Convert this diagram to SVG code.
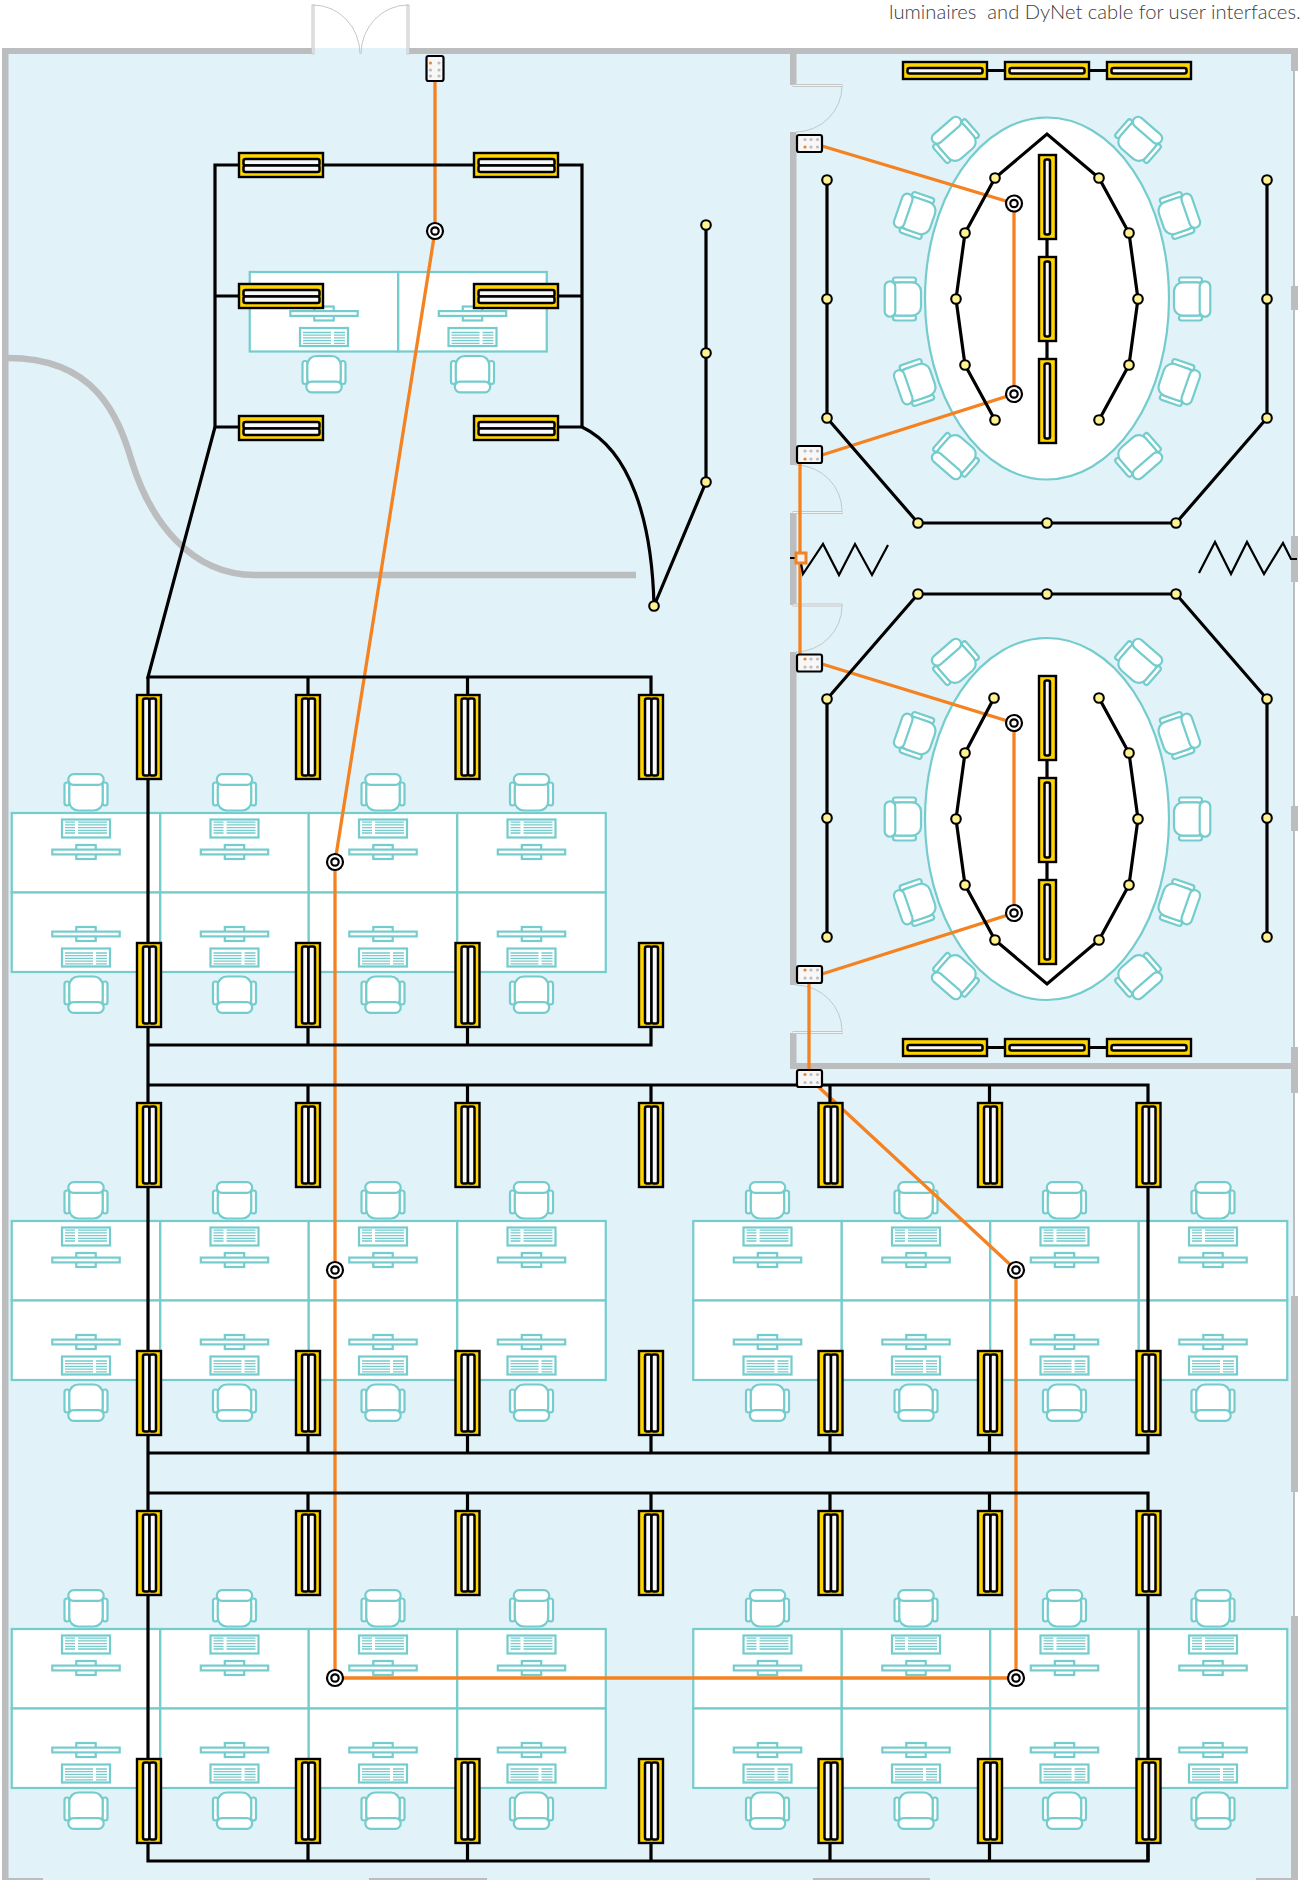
<svg xmlns="http://www.w3.org/2000/svg" width="1303" height="1880" viewBox="0 0 1303 1880">
<style>
.wall{fill:#bcbdbf}
.wallc{fill:none;stroke:#bcbdbf;stroke-width:6.5}
.door{fill:none;stroke:#c6c7c9;stroke-width:1}
.leaf{fill:#f0f4f5;stroke:#c6c7c9;stroke-width:1}
.t{fill:#fff;stroke:#74cccd;stroke-width:2.2}
.tl{fill:none;stroke:#74cccd;stroke-width:1.3}
.w{fill:none;stroke:#000;stroke-width:3.2;stroke-linejoin:miter}
.z{fill:none;stroke:#000;stroke-width:2.2}
.o{fill:none;stroke:#f58220;stroke-width:3.3}
.lum{fill:#ffd500;stroke:#000;stroke-width:2.4}
.tube{fill:#f8f8f8;stroke:#000;stroke-width:2.5}
.n{fill:#fff38f;stroke:#000;stroke-width:2.1}
.s{fill:#fff;stroke:#000;stroke-width:2.2}
.kp{fill:#f7f7f7;stroke:#000;stroke-width:2.2}
.dg{fill:#bcbdbf}
.do{fill:#f58220}
text{font-family:"Lato","Liberation Sans",sans-serif;font-weight:300;font-size:20.2px;fill:#3c3c3c;white-space:pre}
</style>
<defs>
<g id="lh2"><rect class="lum" x="1" y="1" width="84" height="24"/><rect class="tube" x="5.5" y="7" width="76" height="6.5" rx="2"/><rect class="tube" x="5.5" y="13.5" width="76" height="6.5" rx="2"/></g>
<g id="lv2"><rect class="lum" x="1" y="1" width="24" height="84"/><rect class="tube" x="7" y="4.5" width="6.5" height="77" rx="2"/><rect class="tube" x="13.5" y="4.5" width="6.5" height="77" rx="2"/></g>
<g id="lh1"><rect class="lum" x="1" y="1" width="84" height="17"/><rect class="tube" x="5.5" y="7" width="75" height="5.5" rx="2"/></g>
<g id="lv1"><rect class="lum" x="1" y="1" width="17" height="84"/><rect class="tube" x="6.5" y="5.5" width="5.5" height="75" rx="2"/></g>
<g id="sensor"><circle class="s" r="8"/><circle class="s" r="3.7"/></g>
<g id="chair"><rect class="t" x="-21.5" y="-10" width="5" height="23" rx="2.5"/><rect class="t" x="16.5" y="-10" width="5" height="23" rx="2.5"/><rect class="t" x="-16.7" y="-14" width="33.4" height="32" rx="9"/><rect class="t" x="-17.7" y="-18.3" width="35.4" height="10.6" rx="5.3"/></g>
<g id="chairB"><use href="#chair" transform="scale(1,-1)"/></g>
<g id="mon"><rect class="t" x="-9.7" y="-7" width="19.4" height="14"/><rect class="t" x="-33.7" y="-2.4" width="67.4" height="4.8"/></g>
<g id="kbT"><rect class="t" x="-24" y="-9" width="48" height="18"/><path class="tl" d="M-21-6.3h10M-21-3.6h10M-21-.9h10M-21 1.8h10M-21 4.5h10M-8-6.3h29M-8-3.6h29M-8-.9h29M-8 1.8h29M-8 4.5h29"/></g>
<g id="kbB"><rect class="t" x="-24" y="-9" width="48" height="18"/><path class="tl" d="M-21-4.5h28M-21-1.8h28M-21 .9h28M-21 3.6h28M-21 6.3h28M10-4.5h11M10-1.8h11M10 .9h11M10 3.6h11M10 6.3h11"/></g>
<g id="deskT"><rect class="t" x="-74.25" y="-79.5" width="148.5" height="79.5"/><use href="#kbT" y="-64"/><use href="#mon" y="-40.5"/><use href="#chair" y="-100"/></g>
<g id="deskB"><rect class="t" x="-74.25" y="0" width="148.5" height="79.5"/><use href="#mon" y="41.5"/><use href="#kbB" y="65"/><use href="#chairB" y="102"/></g>
</defs>
<rect width="1303" height="1880" fill="#fff"/>
<rect x="2" y="48" width="1292" height="1832" fill="#e1f2f8"/>
<g id="walls">
<rect class="wall" x="2" y="48" width="6.5" height="1832"/>
<rect class="wall" x="2" y="48" width="310" height="6"/>
<rect class="wall" x="408" y="48" width="889" height="6"/>
<path class="wallc" d="M8 358C95 358 118 415 132 462C150 520 190 575 255 575L636 575"/>
<rect class="wall" x="790" y="48" width="6.5" height="37"/>
<rect class="wall" x="790" y="132" width="6.5" height="333"/>
<rect class="wall" x="790" y="513" width="6.5" height="92"/>
<rect class="wall" x="790" y="652" width="6.5" height="333"/>
<rect class="wall" x="790" y="1033" width="6.5" height="36"/>
<rect class="wall" x="790" y="1063" width="507" height="6"/>
<rect class="wall" x="1293" y="48" width="2" height="1832"/>
<rect class="wall" x="1291" y="48" width="7" height="23"/>
<rect class="wall" x="1291" y="286" width="7" height="24"/>
<rect class="wall" x="1291" y="536" width="7" height="46"/>
<rect class="wall" x="1291" y="806" width="7" height="25"/>
<rect class="wall" x="1291" y="1047" width="7" height="46"/>
<rect class="wall" x="1291" y="1296" width="7" height="196"/>
<rect class="wall" x="1291" y="1616" width="7" height="264"/>
<rect class="wall" x="2" y="1878" width="41" height="2"/>
<rect class="wall" x="369" y="1878" width="118" height="2"/>
<rect class="wall" x="813" y="1878" width="117" height="2"/>
<rect class="wall" x="1256" y="1878" width="42" height="2"/>
</g>
<g id="doors">
<rect class="leaf" x="312" y="5" width="2" height="49"/><path class="door" d="M313 5A47 49 0 0 1 360 54"/>
<rect class="leaf" x="407" y="5" width="2" height="49"/><path class="door" d="M408 5A47 49 0 0 0 361 54"/>
<rect class="leaf" x="793" y="84.5" width="49" height="2"/><path class="door" d="M842 86A47 46 0 0 1 796 132"/>
<rect class="leaf" x="793" y="511.5" width="49" height="2"/><path class="door" d="M842 511A47 46 0 0 0 796 465"/>
<rect class="leaf" x="793" y="604" width="49" height="2"/><path class="door" d="M842 606A47 46 0 0 1 796 652"/>
<rect class="leaf" x="793" y="1031.5" width="49" height="2"/><path class="door" d="M842 1031A47 46 0 0 0 796 985"/>
</g>
<g id="table-upper"><ellipse class="t" cx="1047" cy="298.5" rx="122" ry="181"/></g>
<g id="table-lower"><ellipse class="t" cx="1047" cy="819" rx="122" ry="181"/></g>
<g id="chairs-upper">
<use href="#chair" transform="translate(955 140) rotate(-41)"/><use href="#chair" transform="translate(915.5 215) rotate(-71)"/><use href="#chair" transform="translate(903 299) rotate(-90)"/><use href="#chair" transform="translate(915.5 383) rotate(-109)"/><use href="#chair" transform="translate(955 456) rotate(-139)"/>
<use href="#chair" transform="translate(1139 140) rotate(41)"/><use href="#chair" transform="translate(1178.5 215) rotate(71)"/><use href="#chair" transform="translate(1192 299) rotate(90)"/><use href="#chair" transform="translate(1178.5 383) rotate(109)"/><use href="#chair" transform="translate(1139 456) rotate(139)"/>
</g>
<g id="chairs-lower">
<use href="#chair" transform="translate(955 662) rotate(-41)"/><use href="#chair" transform="translate(915.5 735) rotate(-71)"/><use href="#chair" transform="translate(903 819) rotate(-90)"/><use href="#chair" transform="translate(915.5 903) rotate(-109)"/><use href="#chair" transform="translate(955 976) rotate(-139)"/>
<use href="#chair" transform="translate(1139 662) rotate(41)"/><use href="#chair" transform="translate(1178.5 735) rotate(71)"/><use href="#chair" transform="translate(1192 819) rotate(90)"/><use href="#chair" transform="translate(1178.5 903) rotate(109)"/><use href="#chair" transform="translate(1139 976) rotate(139)"/>
</g>
<g id="desks-top"><use href="#deskB" x="324" y="272"/><use href="#deskB" x="472.5" y="272"/></g>
<g id="desks-a"><use href="#deskT" x="86" y="892.5"/><use href="#deskT" x="234.5" y="892.5"/><use href="#deskT" x="383" y="892.5"/><use href="#deskT" x="531.5" y="892.5"/><use href="#deskB" x="86" y="892.5"/><use href="#deskB" x="234.5" y="892.5"/><use href="#deskB" x="383" y="892.5"/><use href="#deskB" x="531.5" y="892.5"/></g>
<g id="desks-b"><use href="#deskT" x="86" y="1300.5"/><use href="#deskT" x="234.5" y="1300.5"/><use href="#deskT" x="383" y="1300.5"/><use href="#deskT" x="531.5" y="1300.5"/><use href="#deskB" x="86" y="1300.5"/><use href="#deskB" x="234.5" y="1300.5"/><use href="#deskB" x="383" y="1300.5"/><use href="#deskB" x="531.5" y="1300.5"/></g>
<g id="desks-c"><use href="#deskT" x="767.5" y="1300.5"/><use href="#deskT" x="916" y="1300.5"/><use href="#deskT" x="1064.5" y="1300.5"/><use href="#deskT" x="1213" y="1300.5"/><use href="#deskB" x="767.5" y="1300.5"/><use href="#deskB" x="916" y="1300.5"/><use href="#deskB" x="1064.5" y="1300.5"/><use href="#deskB" x="1213" y="1300.5"/></g>
<g id="desks-d"><use href="#deskT" x="86" y="1708.5"/><use href="#deskT" x="234.5" y="1708.5"/><use href="#deskT" x="383" y="1708.5"/><use href="#deskT" x="531.5" y="1708.5"/><use href="#deskB" x="86" y="1708.5"/><use href="#deskB" x="234.5" y="1708.5"/><use href="#deskB" x="383" y="1708.5"/><use href="#deskB" x="531.5" y="1708.5"/></g>
<g id="desks-e"><use href="#deskT" x="767.5" y="1708.5"/><use href="#deskT" x="916" y="1708.5"/><use href="#deskT" x="1064.5" y="1708.5"/><use href="#deskT" x="1213" y="1708.5"/><use href="#deskB" x="767.5" y="1708.5"/><use href="#deskB" x="916" y="1708.5"/><use href="#deskB" x="1064.5" y="1708.5"/><use href="#deskB" x="1213" y="1708.5"/></g>
<g id="connectors">
<g id="dynet">
<path class="o" d="M435 81V231L335 862V1678H1016V1270L810 1079"/>
<path class="o" d="M822 146L1014 203.5V394L822 455"/>
<path class="o" d="M800 463V654"/>
<path class="o" d="M822 664L1014 723V913L822 974"/>
<path class="o" d="M809 983V1070"/>
</g>
<g id="dali">
<path class="w" d="M238 165H215V427H238M215 296H238M324 165H473M559 165H582V427H559M582 296H559"/>
<path class="w" d="M215 427L148 677H651V694M308 677V694M467.5 677V694"/>
<path class="w" d="M582 427C630 450 652 520 654 606L706 482V225"/>
<path class="w" d="M148 677V1861H1148V1844M148 1045H651V1028M308 1045V1028M467.5 1045V1028"/>
<path class="w" d="M148 1085H1148V1453H148M308 1085V1102M467.5 1085V1102M651 1085V1102M830 1085V1102M989.5 1085V1102"/>
<path class="w" d="M308 1453V1436M467.5 1453V1436M651 1453V1436M830 1453V1436M989.5 1453V1436"/>
<path class="w" d="M148 1493H1148V1861M308 1493V1510M467.5 1493V1510M651 1493V1510M830 1493V1510M989.5 1493V1510"/>
<path class="w" d="M308 1861V1844M467.5 1861V1844M651 1861V1844M830 1861V1844M989.5 1861V1844"/>
<path class="w" d="M988 70.5H1106M988 1047.5H1106M1047 240V358M1047 761V879"/>
<path class="w" d="M995 420L965 365L956 299L965 233L995 178L1047 134L1099 178L1129 233L1138 299L1129 365L1099 420"/>
<path class="w" d="M827 180V418L918 523H1176L1267 418V180"/>
<path class="w" d="M994 698L965 753L956 819L965 885L995 940L1047 984L1099 940L1129 885L1138 819L1129 753L1099 698"/>
<path class="w" d="M827 937V699L918 594H1176L1267 699V937"/>
<path class="z" d="M790 558H798M800 558L803 574L823 544L839 575L855 544L872 575L888 545"/>
<path class="z" d="M1199 573L1215 542L1231 574L1247 542L1264 574L1283 543L1291 559H1297"/>
</g>
</g>
<g id="luminaires">
<g id="l-t1"><use href="#lh2" x="238" y="152"/></g><g id="l-t2"><use href="#lh2" x="473" y="152"/></g>
<g id="l-t3"><use href="#lh2" x="238" y="283"/></g><g id="l-t4"><use href="#lh2" x="473" y="283"/></g>
<g id="l-t5"><use href="#lh2" x="238" y="415"/></g><g id="l-t6"><use href="#lh2" x="473" y="415"/></g>
<g id="l-a1"><use href="#lv2" x="136" y="694"/></g><g id="l-a2"><use href="#lv2" x="295" y="694"/></g><g id="l-a3"><use href="#lv2" x="454.5" y="694"/></g><g id="l-a4"><use href="#lv2" x="638" y="694"/></g>
<g id="l-b1"><use href="#lv2" x="136" y="942"/></g><g id="l-b2"><use href="#lv2" x="295" y="942"/></g><g id="l-b3"><use href="#lv2" x="454.5" y="942"/></g><g id="l-b4"><use href="#lv2" x="638" y="942"/></g>
<g id="l-c1"><use href="#lv2" x="136" y="1102"/></g><g id="l-c2"><use href="#lv2" x="295" y="1102"/></g><g id="l-c3"><use href="#lv2" x="454.5" y="1102"/></g><g id="l-c4"><use href="#lv2" x="638" y="1102"/></g><g id="l-c5"><use href="#lv2" x="817.5" y="1102"/></g><g id="l-c6"><use href="#lv2" x="977" y="1102"/></g><g id="l-c7"><use href="#lv2" x="1135.5" y="1102"/></g>
<g id="l-d1"><use href="#lv2" x="136" y="1350"/></g><g id="l-d2"><use href="#lv2" x="295" y="1350"/></g><g id="l-d3"><use href="#lv2" x="454.5" y="1350"/></g><g id="l-d4"><use href="#lv2" x="638" y="1350"/></g><g id="l-d5"><use href="#lv2" x="817.5" y="1350"/></g><g id="l-d6"><use href="#lv2" x="977" y="1350"/></g><g id="l-d7"><use href="#lv2" x="1135.5" y="1350"/></g>
<g id="l-e1"><use href="#lv2" x="136" y="1510"/></g><g id="l-e2"><use href="#lv2" x="295" y="1510"/></g><g id="l-e3"><use href="#lv2" x="454.5" y="1510"/></g><g id="l-e4"><use href="#lv2" x="638" y="1510"/></g><g id="l-e5"><use href="#lv2" x="817.5" y="1510"/></g><g id="l-e6"><use href="#lv2" x="977" y="1510"/></g><g id="l-e7"><use href="#lv2" x="1135.5" y="1510"/></g>
<g id="l-f1"><use href="#lv2" x="136" y="1758"/></g><g id="l-f2"><use href="#lv2" x="295" y="1758"/></g><g id="l-f3"><use href="#lv2" x="454.5" y="1758"/></g><g id="l-f4"><use href="#lv2" x="638" y="1758"/></g><g id="l-f5"><use href="#lv2" x="817.5" y="1758"/></g><g id="l-f6"><use href="#lv2" x="977" y="1758"/></g><g id="l-f7"><use href="#lv2" x="1135.5" y="1758"/></g>
<g id="l-r1"><use href="#lh1" x="902" y="61"/></g><g id="l-r2"><use href="#lh1" x="1004" y="61"/></g><g id="l-r3"><use href="#lh1" x="1106" y="61"/></g>
<g id="l-r4"><use href="#lh1" x="902" y="1038"/></g><g id="l-r5"><use href="#lh1" x="1004" y="1038"/></g><g id="l-r6"><use href="#lh1" x="1106" y="1038"/></g>
<g id="l-r7"><use href="#lv1" x="1038" y="154"/></g><g id="l-r8"><use href="#lv1" x="1038" y="256"/></g><g id="l-r9"><use href="#lv1" x="1038" y="358"/></g>
<g id="l-r10"><use href="#lv1" x="1038" y="675"/></g><g id="l-r11"><use href="#lv1" x="1038" y="777"/></g><g id="l-r12"><use href="#lv1" x="1038" y="879"/></g>
</g>
<g id="spots">
<circle class="n" cx="706" cy="225" r="4.8"/><circle class="n" cx="706" cy="353" r="4.8"/><circle class="n" cx="706" cy="482" r="4.8"/><circle class="n" cx="654" cy="606" r="4.8"/>
<circle class="n" cx="995" cy="178" r="4.8"/><circle class="n" cx="965" cy="233" r="4.8"/><circle class="n" cx="956" cy="299" r="4.8"/><circle class="n" cx="965" cy="365" r="4.8"/><circle class="n" cx="995" cy="420" r="4.8"/>
<circle class="n" cx="1099" cy="178" r="4.8"/><circle class="n" cx="1129" cy="233" r="4.8"/><circle class="n" cx="1138" cy="299" r="4.8"/><circle class="n" cx="1129" cy="365" r="4.8"/><circle class="n" cx="1099" cy="420" r="4.8"/>
<circle class="n" cx="827" cy="180" r="4.8"/><circle class="n" cx="827" cy="299" r="4.8"/><circle class="n" cx="827" cy="418" r="4.8"/><circle class="n" cx="918" cy="523" r="4.8"/><circle class="n" cx="1047" cy="523" r="4.8"/><circle class="n" cx="1176" cy="523" r="4.8"/><circle class="n" cx="1267" cy="418" r="4.8"/><circle class="n" cx="1267" cy="299" r="4.8"/><circle class="n" cx="1267" cy="180" r="4.8"/>
<circle class="n" cx="994" cy="698" r="4.8"/><circle class="n" cx="965" cy="753" r="4.8"/><circle class="n" cx="956" cy="819" r="4.8"/><circle class="n" cx="965" cy="885" r="4.8"/><circle class="n" cx="995" cy="940" r="4.8"/>
<circle class="n" cx="1099" cy="698" r="4.8"/><circle class="n" cx="1129" cy="753" r="4.8"/><circle class="n" cx="1138" cy="819" r="4.8"/><circle class="n" cx="1129" cy="885" r="4.8"/><circle class="n" cx="1099" cy="940" r="4.8"/>
<circle class="n" cx="827" cy="937" r="4.8"/><circle class="n" cx="827" cy="818" r="4.8"/><circle class="n" cx="827" cy="699" r="4.8"/><circle class="n" cx="918" cy="594" r="4.8"/><circle class="n" cx="1047" cy="594" r="4.8"/><circle class="n" cx="1176" cy="594" r="4.8"/><circle class="n" cx="1267" cy="699" r="4.8"/><circle class="n" cx="1267" cy="818" r="4.8"/><circle class="n" cx="1267" cy="937" r="4.8"/>
</g>
<g id="sensors">
<use href="#sensor" x="435" y="231"/><use href="#sensor" x="335" y="862"/><use href="#sensor" x="335" y="1270"/><use href="#sensor" x="335" y="1678"/><use href="#sensor" x="1016" y="1270"/><use href="#sensor" x="1016" y="1678"/>
<use href="#sensor" x="1014" y="203.5"/><use href="#sensor" x="1014" y="394"/><use href="#sensor" x="1014" y="723"/><use href="#sensor" x="1014" y="913"/>
</g>
<g id="junction"><rect x="796" y="553" width="10" height="10" fill="#f2f2f2" stroke="#f58220" stroke-width="3"/></g>
<g id="keypad-0"><rect class="kp" x="426.5" y="56" width="17" height="25" rx="2"/><circle class="do" cx="430.5" cy="63" r="1.6"/><circle class="dg" cx="439" cy="63" r="1.6"/><circle class="dg" cx="430.5" cy="70" r="1.6"/><circle class="dg" cx="439" cy="70" r="1.6"/><circle class="dg" cx="430.5" cy="76" r="1.6"/><circle class="dg" cx="439" cy="76" r="1.6"/></g>
<g id="keypad-1"><rect class="kp" x="797" y="135" width="25" height="17" rx="2"/><circle class="dg" cx="805" cy="139.5" r="1.6"/><circle class="dg" cx="811" cy="139.5" r="1.6"/><circle class="dg" cx="817.5" cy="139.5" r="1.6"/><circle class="do" cx="805" cy="147" r="1.6"/><circle class="dg" cx="811" cy="147" r="1.6"/><circle class="dg" cx="817.5" cy="147" r="1.6"/></g>
<g id="keypad-2"><rect class="kp" x="797" y="446" width="25" height="17" rx="2"/><circle class="dg" cx="805" cy="451" r="1.6"/><circle class="dg" cx="811" cy="451" r="1.6"/><circle class="dg" cx="817.5" cy="451" r="1.6"/><circle class="do" cx="805" cy="459" r="1.6"/><circle class="dg" cx="811" cy="459" r="1.6"/><circle class="dg" cx="817.5" cy="459" r="1.6"/></g>
<g id="keypad-3"><rect class="kp" x="797" y="654.5" width="25" height="17" rx="2"/><circle class="do" cx="805" cy="659" r="1.6"/><circle class="dg" cx="811" cy="659" r="1.6"/><circle class="dg" cx="817.5" cy="659" r="1.6"/><circle class="dg" cx="805" cy="667" r="1.6"/><circle class="dg" cx="811" cy="667" r="1.6"/><circle class="dg" cx="817.5" cy="667" r="1.6"/></g>
<g id="keypad-4"><rect class="kp" x="797" y="966" width="25" height="17" rx="2"/><circle class="do" cx="805" cy="970" r="1.6"/><circle class="dg" cx="811" cy="970" r="1.6"/><circle class="dg" cx="817.5" cy="970" r="1.6"/><circle class="dg" cx="805" cy="978" r="1.6"/><circle class="dg" cx="811" cy="978" r="1.6"/><circle class="dg" cx="817.5" cy="978" r="1.6"/></g>
<g id="keypad-5"><rect class="kp" x="797" y="1070" width="25" height="17" rx="2"/><circle class="do" cx="805" cy="1074.5" r="1.6"/><circle class="dg" cx="811" cy="1074.5" r="1.6"/><circle class="dg" cx="817.5" cy="1074.5" r="1.6"/><circle class="dg" cx="805" cy="1082.5" r="1.6"/><circle class="dg" cx="811" cy="1082.5" r="1.6"/><circle class="dg" cx="817.5" cy="1082.5" r="1.6"/></g>
<text x="889" y="19">luminaires  and DyNet cable for user interfaces.</text>
</svg>
